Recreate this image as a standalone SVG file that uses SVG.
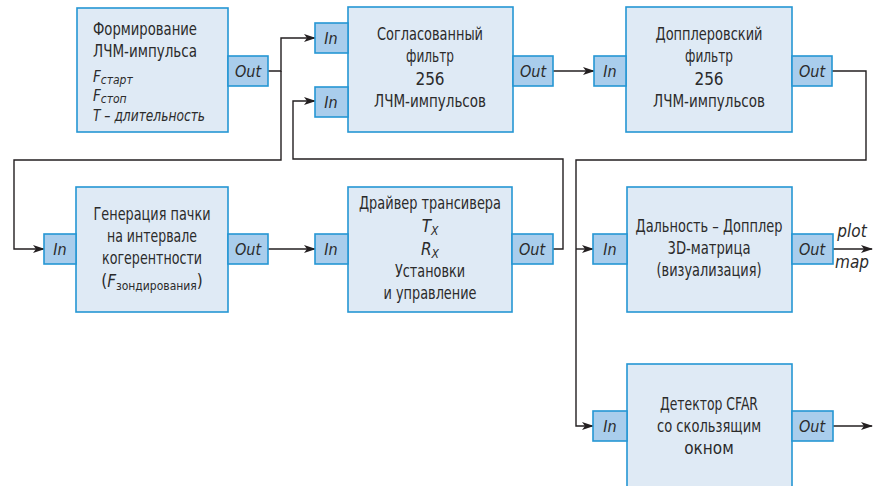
<svg xmlns="http://www.w3.org/2000/svg" width="876" height="486" viewBox="0 0 876 486">
<defs>
<marker id="arr" markerWidth="12" markerHeight="8" refX="11" refY="4" orient="auto" markerUnits="userSpaceOnUse">
<path d="M0,0 L12,4 L0,8 L3,4 Z" fill="#231f20"/>
</marker>
<style>
.box{fill:#dfeaf5;stroke:#2596d4;stroke-width:1.6}
.port{fill:#a9cdec;stroke:#2596d4;stroke-width:1.6}
.t{font-family:"Liberation Sans Narrow","DejaVu Sans Condensed","Liberation Sans",sans-serif;font-size:17px;fill:#2b2b2b}
.p{font-size:16px}
.s{font-size:15px}
.c{text-anchor:middle}
.i{font-style:italic}
.w{fill:none;stroke:#231f20;stroke-width:1.4}
.sub{font-size:12px}
</style>
</defs>
<rect width="876" height="486" fill="#ffffff"/>

<g id="connectors">
<path class="w" d="M268,71 H281 V38 H315" marker-end="url(#arr)"/>
<path class="w" d="M281,71 V160 H14 V249 H44" marker-end="url(#arr)"/>
<path class="w" d="M268,249 H315" marker-end="url(#arr)"/>
<path class="w" d="M553,249 H563 V159 H293 V101 H315" marker-end="url(#arr)"/>
<path class="w" d="M553,71 H594" marker-end="url(#arr)"/>
<path class="w" d="M832,71 H866 V160 H576 V426 H593" marker-end="url(#arr)"/>
<path class="w" d="M576,249 H593" marker-end="url(#arr)"/>
<path class="w" d="M833,249 H872" marker-end="url(#arr)"/>
<path class="w" d="M833,426 H872" marker-end="url(#arr)"/>
<text class="t i c" x="852" y="237" font-size="14">plot</text>
<text class="t i c" x="852" y="268" font-size="14">map</text>
</g>

<g id="chirp">
<rect class="box" x="77" y="8" width="151" height="124"/>
<rect class="port" x="228" y="56" width="40" height="30"/>
<text class="t p c i" x="248" y="77">Out</text>
<text class="t" x="93" y="35" textLength="104" lengthAdjust="spacingAndGlyphs">Формирование</text>
<text class="t" x="93" y="57" textLength="104" lengthAdjust="spacingAndGlyphs">ЛЧМ-импульса</text>
<text class="t s i" x="93" y="82">F<tspan class="sub" dy="2">старт</tspan></text>
<text class="t s i" x="93" y="101">F<tspan class="sub" dy="2">стоп</tspan></text>
<text class="t s i" x="93" y="121" textLength="112" lengthAdjust="spacingAndGlyphs">T – длительность</text>
</g>

<g id="matched">
<rect class="box" x="348" y="7" width="165" height="125"/>
<rect class="port" x="315" y="23" width="33" height="30"/>
<rect class="port" x="315" y="87" width="33" height="30"/>
<rect class="port" x="513" y="56" width="40" height="30"/>
<text class="t p c i" x="331" y="44">In</text>
<text class="t p c i" x="331" y="108">In</text>
<text class="t p c i" x="533" y="77">Out</text>
<text class="t c" x="430" y="40" textLength="106" lengthAdjust="spacingAndGlyphs">Согласованный</text>
<text class="t c" x="430" y="62" textLength="48" lengthAdjust="spacingAndGlyphs">фильтр</text>
<text class="t c" x="430" y="85">256</text>
<text class="t c" x="430" y="107" textLength="112" lengthAdjust="spacingAndGlyphs">ЛЧМ-импульсов</text>
</g>

<g id="doppler">
<rect class="box" x="626" y="7" width="166" height="125"/>
<rect class="port" x="594" y="56" width="32" height="30"/>
<rect class="port" x="792" y="56" width="40" height="30"/>
<text class="t p c i" x="610" y="77">In</text>
<text class="t p c i" x="812" y="77">Out</text>
<text class="t c" x="709" y="40" textLength="107" lengthAdjust="spacingAndGlyphs">Допплеровский</text>
<text class="t c" x="709" y="62" textLength="48" lengthAdjust="spacingAndGlyphs">фильтр</text>
<text class="t c" x="709" y="85">256</text>
<text class="t c" x="709" y="107" textLength="112" lengthAdjust="spacingAndGlyphs">ЛЧМ-импульсов</text>
</g>

<g id="burst">
<rect class="box" x="76" y="187" width="152" height="125"/>
<rect class="port" x="44" y="234" width="32" height="30"/>
<rect class="port" x="228" y="234" width="40" height="30"/>
<text class="t p c i" x="60" y="255">In</text>
<text class="t p c i" x="248" y="255">Out</text>
<text class="t c" x="152" y="220" textLength="117" lengthAdjust="spacingAndGlyphs">Генерация пачки</text>
<text class="t c" x="152" y="242" textLength="90" lengthAdjust="spacingAndGlyphs">на интервале</text>
<text class="t c" x="152" y="264" textLength="100" lengthAdjust="spacingAndGlyphs">когерентности</text>
<text class="t c" x="152" y="287">(<tspan class="i">F</tspan><tspan class="sub" dy="3">зондирования</tspan><tspan dy="-3">)</tspan></text>
</g>

<g id="driver">
<rect class="box" x="348" y="187" width="164" height="125"/>
<rect class="port" x="315" y="234" width="33" height="30"/>
<rect class="port" x="512" y="234" width="41" height="30"/>
<text class="t p c i" x="331" y="255">In</text>
<text class="t p c i" x="532" y="255">Out</text>
<text class="t c" x="430" y="209" textLength="142" lengthAdjust="spacingAndGlyphs">Драйвер трансивера</text>
<text class="t c i" x="430" y="232">T<tspan class="sub" dy="3">X</tspan></text>
<text class="t c i" x="430" y="255">R<tspan class="sub" dy="3">X</tspan></text>
<text class="t c" x="430" y="277" textLength="70" lengthAdjust="spacingAndGlyphs">Установки</text>
<text class="t c" x="430" y="299" textLength="93" lengthAdjust="spacingAndGlyphs">и управление</text>
</g>

<g id="rangedoppler">
<rect class="box" x="627" y="187" width="165" height="125"/>
<rect class="port" x="593" y="234" width="34" height="30"/>
<rect class="port" x="792" y="234" width="41" height="30"/>
<text class="t p c i" x="610" y="255">In</text>
<text class="t p c i" x="812" y="255">Out</text>
<text class="t c" x="709" y="232" textLength="147" lengthAdjust="spacingAndGlyphs">Дальность – Допплер</text>
<text class="t c" x="709" y="254" textLength="83" lengthAdjust="spacingAndGlyphs">3D-матрица</text>
<text class="t c" x="709" y="276" textLength="105" lengthAdjust="spacingAndGlyphs">(визуализация)</text>
</g>

<g id="cfar">
<rect class="box" x="627" y="364" width="165" height="130"/>
<rect class="port" x="593" y="411" width="34" height="30"/>
<rect class="port" x="792" y="411" width="41" height="30"/>
<text class="t p c i" x="610" y="432">In</text>
<text class="t p c i" x="812" y="432">Out</text>
<text class="t c" x="709" y="410" textLength="98" lengthAdjust="spacingAndGlyphs">Детектор CFAR</text>
<text class="t c" x="709" y="432" textLength="104" lengthAdjust="spacingAndGlyphs">со скользящим</text>
<text class="t c" x="709" y="454">окном</text>
</g>
</svg>
